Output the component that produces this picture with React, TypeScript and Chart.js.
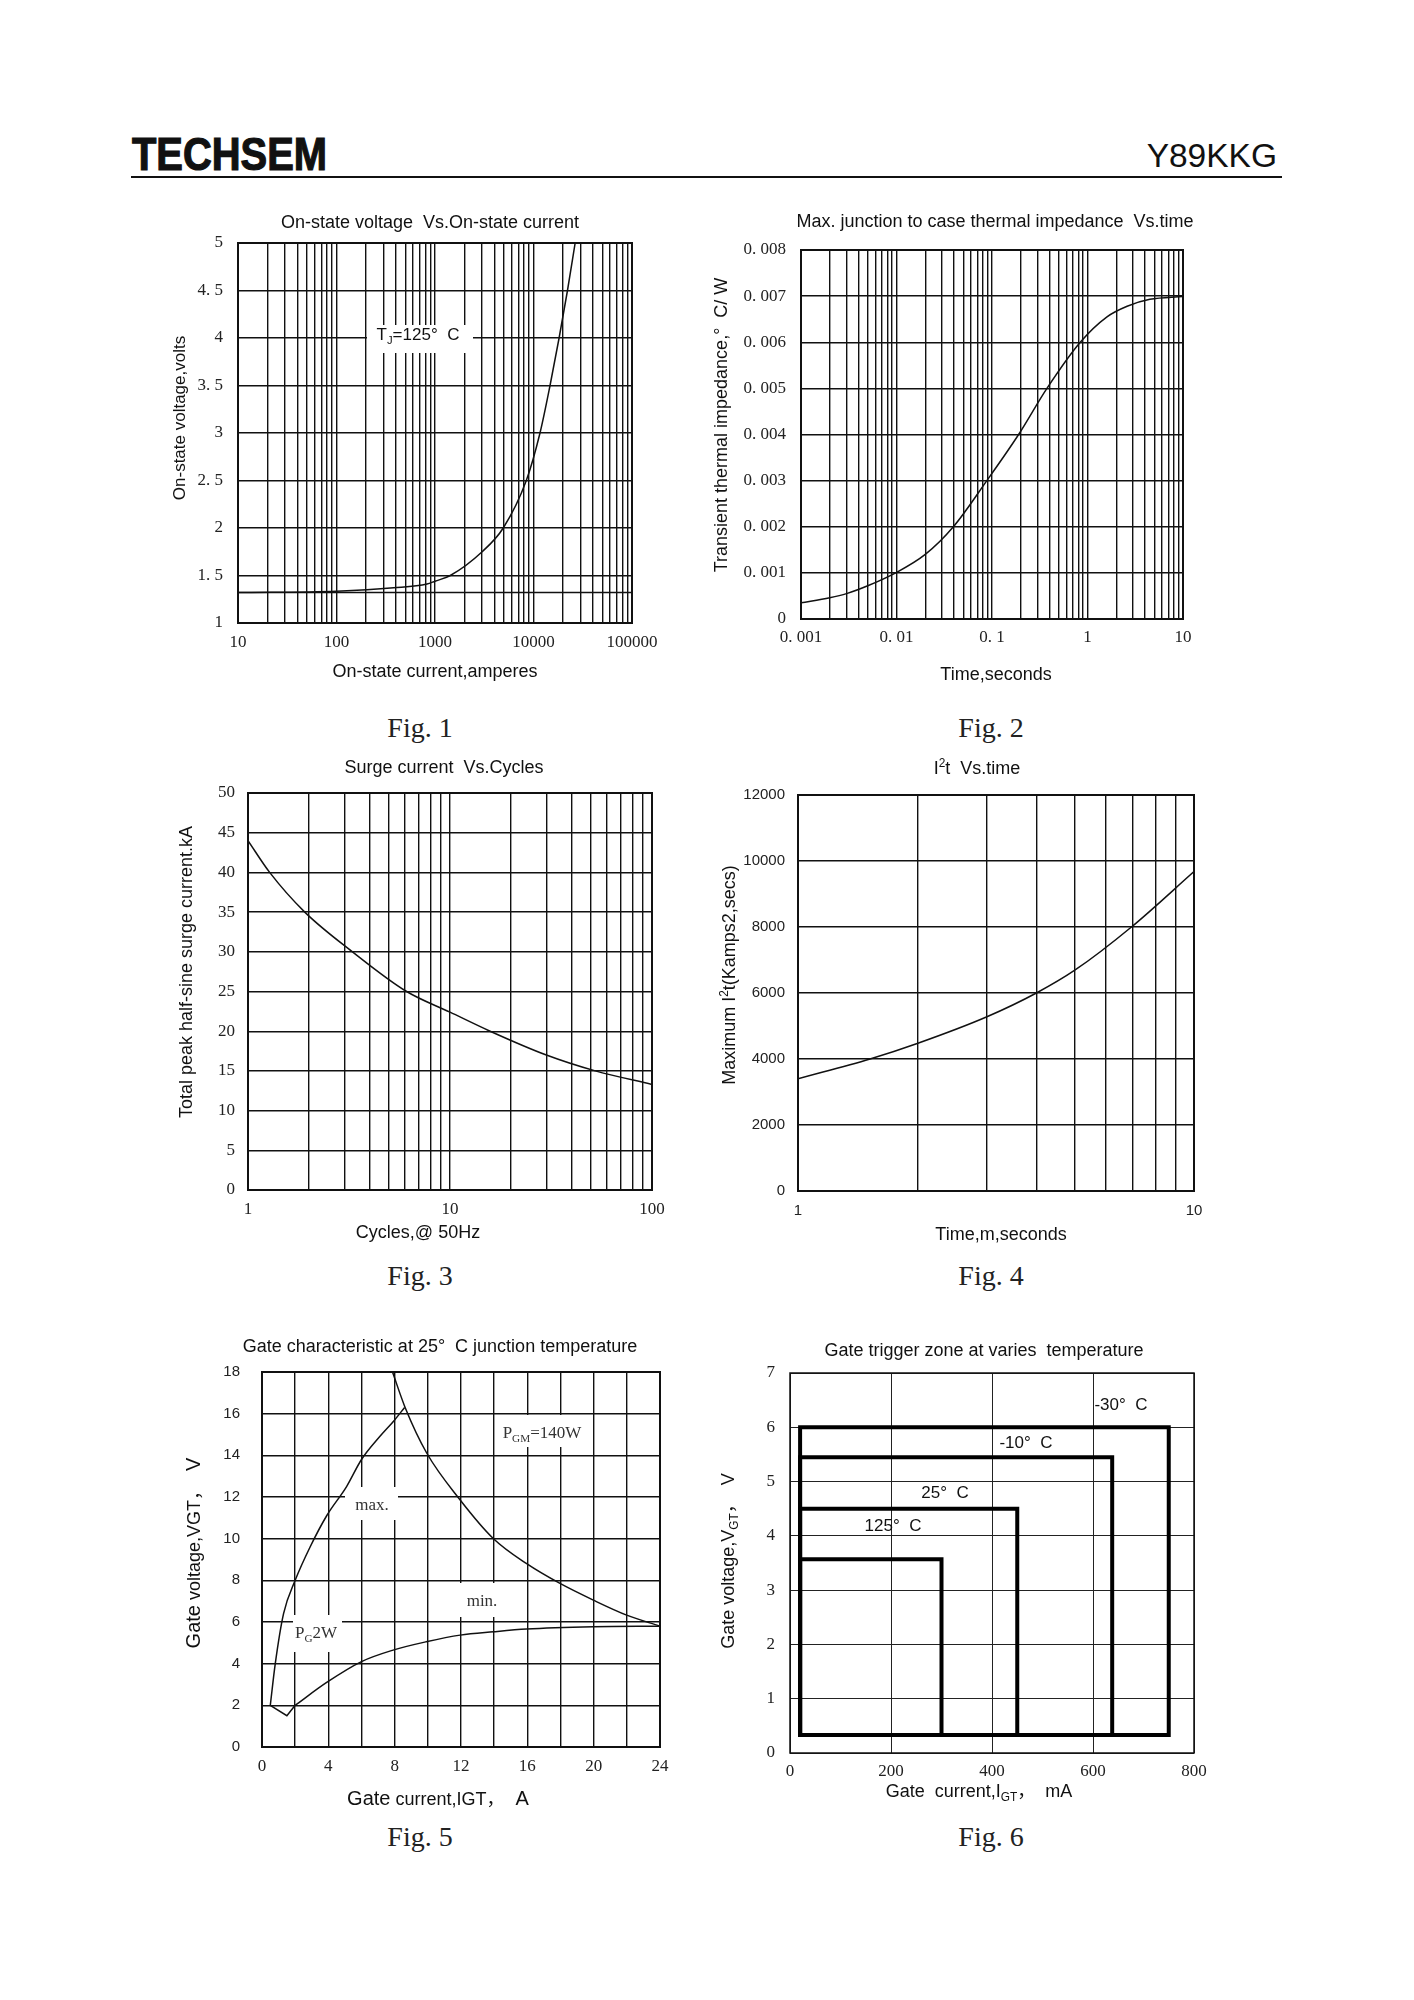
import React, { useEffect, useRef } from "react";
import { Chart, registerables } from "chart.js";

Chart.register(...registerables);

const PAGE_W = 1414;
const PAGE_H = 2000;
const SANS = '"Liberation Sans", Arial, "Noto Sans CJK SC", sans-serif';
const SERIF = '"Liberation Serif", "Times New Roman", "Noto Sans CJK SC", serif';
Chart.defaults.font.family = SANS;

// ---------------- Fig. 1 : On-state voltage vs on-state current ----------------
const fig1Current = [10, 100, 380, 830, 1000, 1430, 3010, 4930, 8450, 11640, 14720, 18190, 22130, 26480];
const fig1Voltage = [1.32, 1.335, 1.37, 1.41, 1.44, 1.5, 1.75, 2.0, 2.5, 3.0, 3.5, 4.0, 4.5, 5.0];
const fig1RefCurrent = [10, 100000];
const fig1RefVoltage = [1.32, 1.32];
const fig1XDecades = [10, 100, 1000, 10000, 100000];
const fig1XLabels = ["10", "100", "1000", "10000", "100000"];
const fig1YTicks = [1, 1.5, 2, 2.5, 3, 3.5, 4, 4.5, 5];
const fig1YLabels = ["1", "1. 5", "2", "2. 5", "3", "3. 5", "4", "4. 5", "5"];

// ---------------- Fig. 2 : Transient thermal impedance vs time ----------------
const fig2Time = [0.001, 0.002, 0.003, 0.005, 0.0098, 0.02, 0.0394, 0.0883, 0.19, 0.376, 0.84, 1.6, 2.6, 4.5, 10];
const fig2Impedance = [0.00035, 0.00046, 0.00055, 0.00072, 0.001, 0.0014, 0.002, 0.003, 0.004, 0.005, 0.006, 0.00655, 0.00678, 0.00693, 0.00699];
const fig2XDecades = [0.001, 0.01, 0.1, 1, 10];
const fig2XLabels = ["0. 001", "0. 01", "0. 1", "1", "10"];
const fig2YTicks = [0, 0.001, 0.002, 0.003, 0.004, 0.005, 0.006, 0.007, 0.008];
const fig2YLabels = ["0", "0. 001", "0. 002", "0. 003", "0. 004", "0. 005", "0. 006", "0. 007", "0. 008"];

// ---------------- Fig. 3 : Surge current vs cycles ----------------
const fig3Cycles = [1, 1.28, 1.91, 3.29, 6.1, 10, 15.8, 30, 52.4, 100];
const fig3Surge = [44.0, 40.0, 35.0, 30.0, 25.0, 22.4, 20.0, 17.0, 15.0, 13.3];
const fig3XDecades = [1, 10, 100];
const fig3XLabels = ["1", "10", "100"];
const fig3YTicks = [0, 5, 10, 15, 20, 25, 30, 35, 40, 45, 50];
const fig3YLabels = ["0", "5", "10", "15", "20", "25", "30", "35", "40", "45", "50"];

// ---------------- Fig. 4 : I2t vs time ----------------
const fig4Time = [1, 1.52, 2, 3, 4, 5, 6.95, 10];
const fig4I2t = [3400, 4000, 4470, 5280, 6000, 6690, 8000, 9680];
const fig4XDecades = [1, 10];
const fig4XLabels = ["1", "10"];
const fig4YTicks = [0, 2000, 4000, 6000, 8000, 10000, 12000];
const fig4YLabels = ["0", "2000", "4000", "6000", "8000", "10000", "12000"];

// ---------------- Fig. 5 : Gate characteristic ----------------
const fig5MaxCurrent = [0.5, 0.8, 1.3, 2.0, 2.9, 3.9, 5.1, 6.0, 7.1, 8.0, 8.6];
const fig5MaxVoltage = [2.0, 4.0, 6.4, 8.0, 9.6, 11.1, 12.5, 13.8, 14.9, 15.7, 16.3];
const fig5NotchCurrent = [0.5, 1.5, 2.0];
const fig5NotchVoltage = [2.0, 1.5, 2.0];
const fig5MinCurrent = [2.0, 3.9, 6.0, 7.9, 9.9, 11.95, 13.96, 15.96, 19.98, 24];
const fig5MinVoltage = [2.0, 3.1, 4.1, 4.65, 5.05, 5.37, 5.53, 5.66, 5.77, 5.8];
const fig5PgmCurrent = [7.87, 8.63, 9.94, 11.95, 13.96, 15.96, 17.97, 19.98, 21.99, 24];
const fig5PgmVoltage = [18, 16.3, 14.1, 11.86, 10.0, 8.8, 7.85, 7.05, 6.33, 5.8];
const fig5XTicks = [0, 2, 4, 6, 8, 10, 12, 14, 16, 18, 20, 22, 24];
const fig5XLabelValues = [0, 4, 8, 12, 16, 20, 24];
const fig5YTicks = [0, 2, 4, 6, 8, 10, 12, 14, 16, 18];

// ---------------- Fig. 6 : Gate trigger zones ----------------
const fig6Temps = ["125° C", "25° C", "-10° C", "-30° C"];
const fig6MaxCurrent = [300, 450, 638, 750];
const fig6MaxVoltage = [3.57, 4.5, 5.45, 6.0];
const fig6MinCurrent = 20;
const fig6MinVoltage = 0.33;
const fig6XTicks = [0, 200, 400, 600, 800];
const fig6YTicks = [0, 1, 2, 3, 4, 5, 6, 7];

// ---------------- helpers ----------------
type Rect = { l: number; t: number; r: number; b: number };
type Seg = { t: string; size?: number; family?: string; sub?: boolean; sup?: boolean };
type TextItem = { segs: Seg[]; x: number; y: number; rotate?: boolean; color?: string };

const multipliers = [1, 2, 3, 4, 5, 6, 7, 8, 9];
function logGrid(decades: number[]): number[] {
  const out: number[] = [];
  decades.forEach((d, i) => {
    if (i === decades.length - 1) out.push(d);
    else multipliers.forEach((m) => out.push(d * m));
  });
  return out;
}

function drawRich(ctx: CanvasRenderingContext2D, item: TextItem) {
  ctx.save();
  ctx.fillStyle = item.color || "#111";
  ctx.textBaseline = "alphabetic";
  ctx.textAlign = "left";
  const parts = item.segs.map((s) => {
    const base = s.size || 18;
    const size = s.sub || s.sup ? base * 0.66 : base;
    const font = `${size}px ${s.family || SANS}`;
    ctx.font = font;
    const w = ctx.measureText(s.t).width;
    const dy = s.sub ? base * 0.22 : s.sup ? -base * 0.4 : 0;
    return { font, w, dy, t: s.t };
  });
  const total = parts.reduce((a, p) => a + p.w, 0);
  ctx.translate(item.x, item.y);
  if (item.rotate) ctx.rotate(-Math.PI / 2);
  let cx = -total / 2;
  for (const p of parts) {
    ctx.font = p.font;
    ctx.fillText(p.t, cx, p.dy);
    cx += p.w;
  }
  ctx.restore();
}

type Spec = {
  area: Rect;
  x: any;
  y: any;
  datasets: any[];
  texts: TextItem[];
  boxes?: Rect[];
  boxTexts?: TextItem[];
  frameWidth?: number;
};

function decor(spec: Spec) {
  return {
    id: "pageDecor",
    beforeDatasetsDraw(chart: any) {
      const ctx = chart.ctx as CanvasRenderingContext2D;
      ctx.save();
      ctx.fillStyle = "#fff";
      (spec.boxes || []).forEach((b) => ctx.fillRect(b.l, b.t, b.r - b.l, b.b - b.t));
      ctx.restore();
      (spec.boxTexts || []).forEach((t) => drawRich(ctx, t));
    },
    afterDraw(chart: any) {
      const ctx = chart.ctx as CanvasRenderingContext2D;
      const a = chart.chartArea;
      ctx.save();
      ctx.strokeStyle = "#111";
      ctx.lineWidth = spec.frameWidth || 2;
      ctx.strokeRect(a.left, a.top, a.right - a.left, a.bottom - a.top);
      ctx.restore();
      spec.texts.forEach((t) => drawRich(ctx, t));
    },
  };
}

function axis(o: {
  type: string;
  min: number;
  max: number;
  ticks: number[];
  label: (v: number, i: number) => string;
  font: any;
  padding: number;
  gridWidth?: number;
  gridColor?: string;
}) {
  return {
    type: o.type,
    min: o.min,
    max: o.max,
    afterBuildTicks: (s: any) => {
      s.ticks = o.ticks.map((v) => ({ value: v }));
    },
    grid: { color: o.gridColor || "#111", lineWidth: o.gridWidth || 1.4, drawTicks: false },
    border: { display: false },
    ticks: {
      autoSkip: false,
      maxRotation: 0,
      minRotation: 0,
      padding: o.padding,
      font: o.font,
      color: "#222",
      callback: (v: any, i: number) => o.label(Number(v), i),
    },
  };
}

const pts = (xs: number[], ys: number[]) => xs.map((x, i) => ({ x, y: ys[i] }));
const curve = (xs: number[], ys: number[], extra: any = {}) => ({
  data: pts(xs, ys),
  showLine: true,
  pointRadius: 0,
  borderColor: "#111",
  borderWidth: 1.5,
  fill: false,
  cubicInterpolationMode: "monotone",
  ...extra,
});

function buildConfig(spec: Spec) {
  const YW = 80;
  const XH = 40;
  const a = spec.area;
  return {
    type: "scatter",
    data: { datasets: spec.datasets },
    options: {
      responsive: false,
      animation: false,
      devicePixelRatio: 1,
      events: [],
      layout: { padding: { left: a.l - YW, top: a.t, right: PAGE_W - a.r, bottom: PAGE_H - a.b - XH } },
      plugins: { legend: { display: false }, tooltip: { enabled: false }, title: { display: false } },
      scales: {
        x: { ...spec.x, position: "bottom", afterFit: (s: any) => { s.height = XH; } },
        y: { ...spec.y, position: "left", afterFit: (s: any) => { s.width = YW; } },
      },
    },
    plugins: [decor(spec)],
  };
}

const serifTick = { family: SERIF, size: 17 };
const sansTick = { family: SANS, size: 15 };
const T = (t: string, size = 18, family = SANS): Seg => ({ t, size, family });

// ---------------- chart specs ----------------
const fig1: Spec = {
  area: { l: 238, t: 243, r: 632, b: 623 },
  x: axis({ type: "logarithmic", min: 10, max: 100000, ticks: logGrid(fig1XDecades), label: (v) => { const i = fig1XDecades.indexOf(v); return i >= 0 ? fig1XLabels[i] : ""; }, font: serifTick, padding: 9 }),
  y: axis({ type: "linear", min: 1, max: 5, ticks: fig1YTicks, label: (v, i) => fig1YLabels[i] ?? "", font: serifTick, padding: 15 }),
  datasets: [curve(fig1Current, fig1Voltage), curve(fig1RefCurrent, fig1RefVoltage, { cubicInterpolationMode: "default", tension: 0 })],
  boxes: [{ l: 367, t: 325, r: 473, b: 353 }],
  boxTexts: [{ segs: [T("T", 17), { t: "J", size: 17, sub: true }, T("=125°  C", 17)], x: 418, y: 340 }],
  texts: [
    { segs: [T("On-state voltage  Vs.On-state current")], x: 430, y: 228 },
    { segs: [T("On-state current,amperes")], x: 435, y: 677 },
    { segs: [T("On-state voltage,volts", 17)], x: 185, y: 418, rotate: true },
  ],
};

const fig2: Spec = {
  area: { l: 801, t: 250, r: 1183, b: 619 },
  x: axis({ type: "logarithmic", min: 0.001, max: 10, ticks: logGrid(fig2XDecades), label: (v) => { const i = fig2XDecades.indexOf(v); return i >= 0 ? fig2XLabels[i] : ""; }, font: serifTick, padding: 8 }),
  y: axis({ type: "linear", min: 0, max: 0.008, ticks: fig2YTicks, label: (v, i) => fig2YLabels[i] ?? "", font: serifTick, padding: 15 }),
  datasets: [curve(fig2Time, fig2Impedance)],
  texts: [
    { segs: [T("Max. junction to case thermal impedance  Vs.time")], x: 995, y: 227 },
    { segs: [T("Time,seconds")], x: 996, y: 680 },
    { segs: [T("Transient thermal impedance,°  C/ W")], x: 727, y: 425, rotate: true },
  ],
};

const fig3: Spec = {
  area: { l: 248, t: 793, r: 652, b: 1190 },
  x: axis({ type: "logarithmic", min: 1, max: 100, ticks: logGrid(fig3XDecades), label: (v) => { const i = fig3XDecades.indexOf(v); return i >= 0 ? fig3XLabels[i] : ""; }, font: serifTick, padding: 9 }),
  y: axis({ type: "linear", min: 0, max: 50, ticks: fig3YTicks, label: (v, i) => fig3YLabels[i] ?? "", font: serifTick, padding: 13 }),
  datasets: [curve(fig3Cycles, fig3Surge)],
  texts: [
    { segs: [T("Surge current  Vs.Cycles")], x: 444, y: 773 },
    { segs: [T("Cycles,@ 50Hz")], x: 418, y: 1238 },
    { segs: [T("Total peak half-sine surge current.kA")], x: 192, y: 972, rotate: true },
  ],
};

const fig4: Spec = {
  area: { l: 798, t: 795, r: 1194, b: 1191 },
  x: axis({ type: "logarithmic", min: 1, max: 10, ticks: logGrid(fig4XDecades), label: (v) => { const i = fig4XDecades.indexOf(v); return i >= 0 ? fig4XLabels[i] : ""; }, font: sansTick, padding: 11 }),
  y: axis({ type: "linear", min: 0, max: 12000, ticks: fig4YTicks, label: (v, i) => fig4YLabels[i] ?? "", font: sansTick, padding: 13 }),
  datasets: [curve(fig4Time, fig4I2t)],
  texts: [
    { segs: [T("I"), { t: "2", size: 18, sup: true }, T("t  Vs.time")], x: 977, y: 774 },
    { segs: [T("Time,m,seconds")], x: 1001, y: 1240 },
    { segs: [T("Maximum I"), { t: "2", size: 18, sup: true }, T("t(Kamps2,secs)")], x: 735, y: 975, rotate: true },
  ],
};

const S17 = (t: string): Seg => ({ t, size: 17, family: SERIF });
const fig5: Spec = {
  area: { l: 262, t: 1372, r: 660, b: 1747 },
  x: axis({ type: "linear", min: 0, max: 24, ticks: fig5XTicks, label: (v) => (fig5XLabelValues.includes(v) ? String(v) : ""), font: serifTick, padding: 9 }),
  y: axis({ type: "linear", min: 0, max: 18, ticks: fig5YTicks, label: (v) => String(v), font: sansTick, padding: 22 }),
  datasets: [
    curve(fig5MaxCurrent, fig5MaxVoltage),
    curve(fig5NotchCurrent, fig5NotchVoltage, { cubicInterpolationMode: "default", tension: 0 }),
    curve(fig5MinCurrent, fig5MinVoltage),
    curve(fig5PgmCurrent, fig5PgmVoltage),
  ],
  boxes: [
    { l: 345, t: 1487, r: 398, b: 1520 },
    { l: 460, t: 1583, r: 500, b: 1617 },
    { l: 293, t: 1615, r: 342, b: 1652 },
    { l: 495, t: 1415, r: 590, b: 1447 },
  ],
  boxTexts: [
    { segs: [S17("max.")], x: 372, y: 1510, color: "#333" },
    { segs: [S17("min.")], x: 482, y: 1606, color: "#333" },
    { segs: [S17("P"), { t: "G", size: 17, family: SERIF, sub: true }, S17("2W")], x: 316, y: 1638, color: "#333" },
    { segs: [S17("P"), { t: "GM", size: 17, family: SERIF, sub: true }, S17("=140W")], x: 542, y: 1438, color: "#333" },
  ],
  texts: [
    { segs: [T("Gate characteristic at 25°  C junction temperature")], x: 440, y: 1352 },
    { segs: [T("Gate", 20), T(" current,IGT，", 18), T("  A", 20)], x: 438, y: 1805 },
    { segs: [T("Gate", 20), T(" voltage,VGT，", 18), T("  V", 20)], x: 200, y: 1553, rotate: true },
  ],
};

const fig6LabelPos = [
  { x: 893, y: 1531 },
  { x: 945, y: 1498 },
  { x: 1026, y: 1448 },
  { x: 1121, y: 1410 },
];
const fig6: Spec = {
  area: { l: 790, t: 1373, r: 1194, b: 1753 },
  x: axis({ type: "linear", min: 0, max: 800, ticks: fig6XTicks, label: (v) => String(v), font: serifTick, padding: 8, gridWidth: 1, gridColor: "#222" }),
  y: axis({ type: "linear", min: 0, max: 7, ticks: fig6YTicks, label: (v) => String(v), font: serifTick, padding: 15, gridWidth: 1, gridColor: "#222" }),
  datasets: fig6Temps.map((_, i) =>
    curve(
      [fig6MinCurrent, fig6MinCurrent, fig6MaxCurrent[i], fig6MaxCurrent[i], fig6MinCurrent],
      [fig6MinVoltage, fig6MaxVoltage[i], fig6MaxVoltage[i], fig6MinVoltage, fig6MinVoltage],
      { cubicInterpolationMode: "default", tension: 0, borderWidth: 4, borderJoinStyle: "miter", borderCapStyle: "square", borderColor: "#000" }
    )
  ),
  frameWidth: 1.5,
  texts: [
    { segs: [T("Gate trigger zone at varies  temperature")], x: 984, y: 1356 },
    { segs: [T("Gate  current,I"), { t: "GT", size: 18, sub: true }, T("，  mA")], x: 979, y: 1797 },
    { segs: [T("Gate voltage,V"), { t: "GT", size: 18, sub: true }, T("，  V")], x: 734, y: 1561, rotate: true },
    ...fig6Temps.map((t, i) => ({ segs: [T(t.replace("° ", "°  "), 17)], x: fig6LabelPos[i].x, y: fig6LabelPos[i].y })),
  ],
};

function PageChart({ spec }: { spec: Spec }) {
  const ref = useRef<HTMLCanvasElement>(null);
  useEffect(() => {
    const chart = new Chart(ref.current as HTMLCanvasElement, buildConfig(spec) as any);
    return () => chart.destroy();
  }, []);
  return (
    <canvas
      ref={ref}
      width={PAGE_W}
      height={PAGE_H}
      style={{ position: "absolute", left: 0, top: 0, width: PAGE_W, height: PAGE_H }}
    />
  );
}

const figLabels = [
  { text: "Fig. 1", x: 420, y: 737 },
  { text: "Fig. 2", x: 991, y: 737 },
  { text: "Fig. 3", x: 420, y: 1285 },
  { text: "Fig. 4", x: 991, y: 1285 },
  { text: "Fig. 5", x: 420, y: 1846 },
  { text: "Fig. 6", x: 991, y: 1846 },
];

export default function App() {
  return (
    <div style={{ position: "absolute", left: 0, top: 0, width: PAGE_W, height: PAGE_H, background: "#fff", overflow: "hidden" }}>
      <div
        style={{
          position: "absolute",
          left: 132,
          top: 131,
          fontFamily: SANS,
          fontWeight: "bold",
          fontSize: 46,
          lineHeight: "46px",
          transform: "scaleX(0.867)",
          transformOrigin: "left top",
          whiteSpace: "nowrap",
          color: "#111",
          WebkitTextStroke: "1.2px #111",
        }}
      >
        TECHSEM
      </div>
      <div
        style={{
          position: "absolute",
          right: PAGE_W - 1277,
          top: 138.6,
          fontFamily: SANS,
          fontSize: 33.5,
          lineHeight: "33.5px",
          whiteSpace: "nowrap",
          color: "#111",
        }}
      >
        Y89KKG
      </div>
      <div style={{ position: "absolute", left: 131, top: 176, width: 1151, height: 2, background: "#111" }} />
      {figLabels.map((f) => (
        <div
          key={f.text}
          style={{
            position: "absolute",
            left: f.x,
            top: f.y - 23.5,
            transform: "translateX(-50%)",
            fontFamily: SERIF,
            fontSize: 28,
            lineHeight: "28px",
            whiteSpace: "nowrap",
            color: "#222",
          }}
        >
          {f.text}
        </div>
      ))}
      {[fig1, fig2, fig3, fig4, fig5, fig6].map((s, i) => (
        <PageChart key={i} spec={s} />
      ))}
    </div>
  );
}
